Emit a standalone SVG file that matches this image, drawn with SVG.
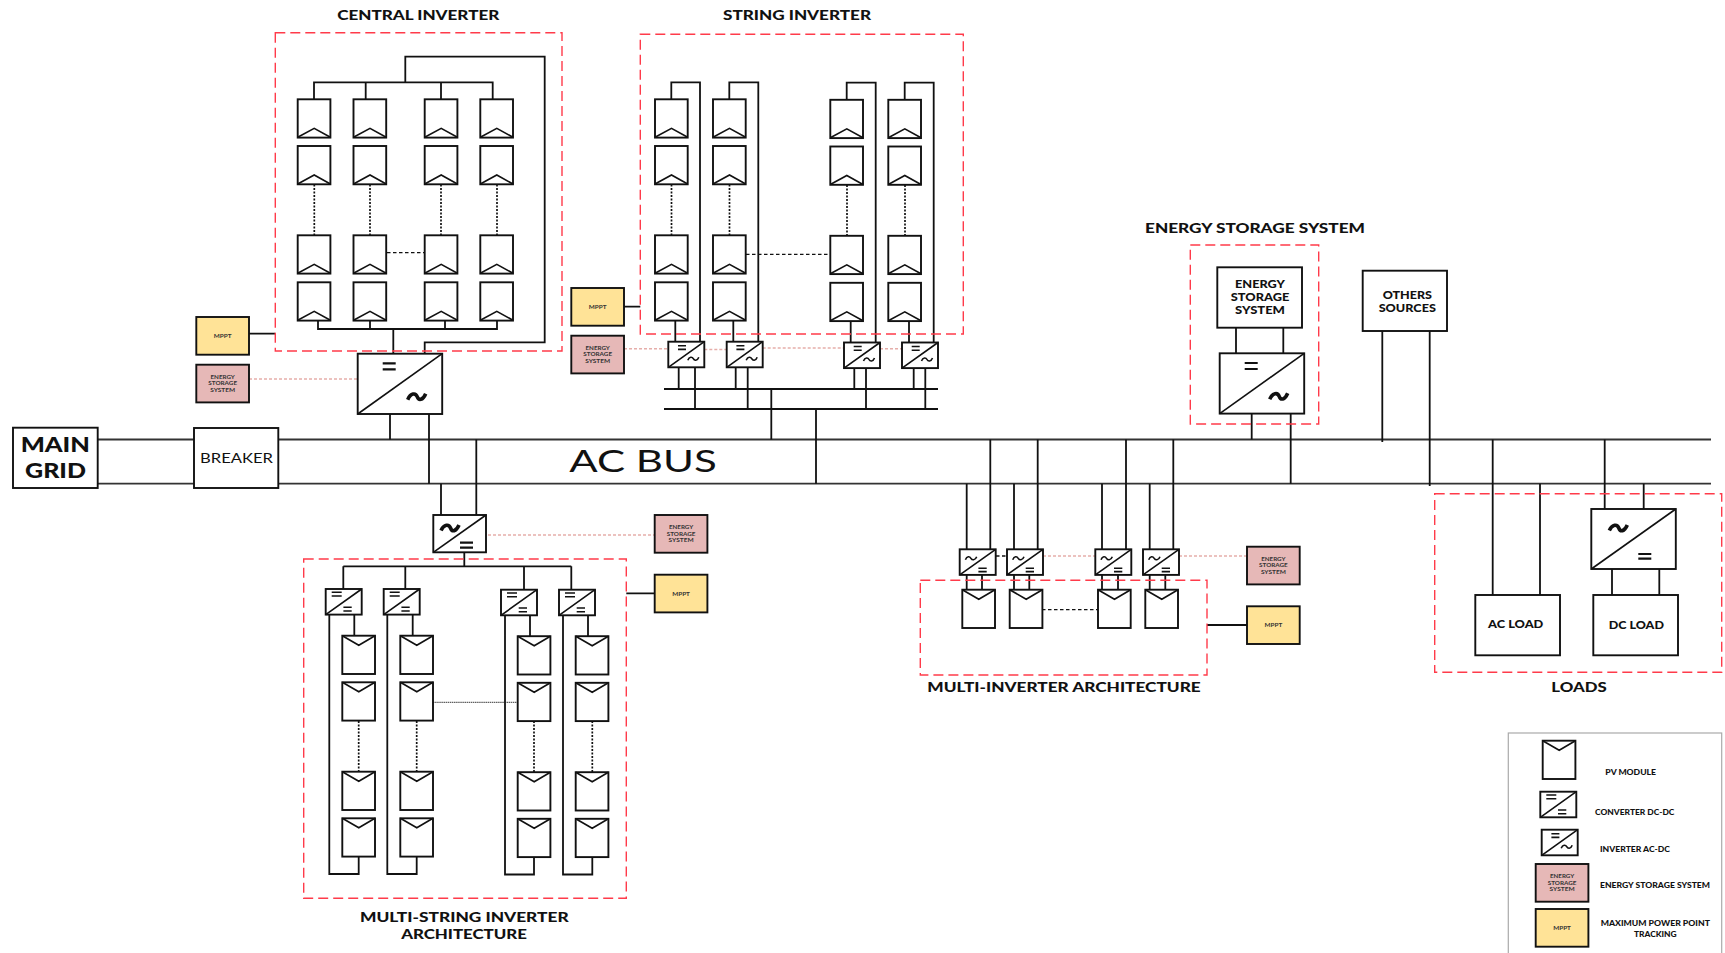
<svg xmlns="http://www.w3.org/2000/svg" xmlns:xlink="http://www.w3.org/1999/xlink" width="1725" height="953" viewBox="0 0 1725 953">
<style>
text{font-family:Lato,"Liberation Sans",sans-serif;fill:#111;text-anchor:middle}
.t{font-weight:900;font-size:14px}
.s{font-size:5.6px;fill:#333;font-weight:700}
.l{font-weight:900;font-size:7.2px}
.box{fill:#fff;stroke:#111;stroke-width:1.9}
.sym{fill:none;stroke:#111;stroke-width:1.6}
.sy2{fill:none;stroke:#111;stroke-width:2.2}
.sy3{fill:none;stroke:#111;stroke-width:3.6}
.wire{fill:none;stroke:#111;stroke-width:1.8}
.bus{fill:none;stroke:#333;stroke-width:1.8}
.dots{fill:none;stroke:#111;stroke-width:1.7;stroke-dasharray:2 1.5}
.dash{fill:none;stroke:#111;stroke-width:1.3;stroke-dasharray:3.5 2.5}
.thin{fill:none;stroke:#222;stroke-width:.9;stroke-dasharray:1.5 .6}
.pink{fill:none;stroke:#e6aeaa;stroke-width:1.4;stroke-dasharray:3 2}
.red{fill:none;stroke:#ff3b4a;stroke-width:1.4;stroke-dasharray:10 5}
.ess{fill:#e6b8b7;stroke:#111;stroke-width:1.9}
.mppt{fill:#ffe397;stroke:#111;stroke-width:1.9}
</style>
<defs>
<g id="pvU"><rect class="box" width="32.7" height="38.3"/><polyline class="sym" points="0,38 16.5,29 32.7,38"/></g>
<g id="pvD"><rect class="box" width="32.7" height="38.3"/><polyline class="sym" points="0,0 16.5,9.5 32.7,0"/></g>
<g id="dcac"><rect class="box" width="36" height="25.6"/><path class="sym" d="M0 25.6L36 0M9.7 4H17.7M9.7 7.7H17.7M19.5 18.5C21 14.5 24 15 25 17S29 19.5 30.5 15.5"/></g>
<g id="acdc"><rect class="box" width="36" height="25.6"/><path class="sym" d="M0 25.6L36 0M18.7 19H27M18.7 22.3H27M5.7 10.5C7.2 6.5 10 7 11.2 9S15.5 11.5 17 7.5"/></g>
<g id="dcdc"><rect class="box" width="36" height="25.6"/><path class="sym" d="M0 25.6L36 0M6 3.3H16M6 7H16M17.7 18.3H26M17.7 22H26"/></g>
<g id="bigDcac"><rect class="box" width="84.5" height="60.3"/><path class="sym" d="M0 60.3L84.5 0"/><path class="sy2" d="M25 9.7H38M25 15.7H38"/><path class="sy3" d="M50 46C53 39 58 39 59.500 43S65 47 68 40"/></g>
<g id="bigAcdc"><rect class="box" width="84.5" height="60"/><path class="sym" d="M0 60L84.500 0"/><path class="sy2" d="M47 45H60M47 49.700H60"/><path class="sy3" d="M18 21.500C21 15 26 15 27.500 19S33 23 36 16"/></g>
<rect id="essBox" class="ess" width="52.700" height="37.700"/>
<rect id="mpptBox" class="mppt" width="52.700" height="37.700"/>
</defs>
<rect width="1725" height="953" fill="#fff"/>

<g id="connectors">
<path class="bus" d="M98 439.500H194M278 439.500H1711M98 483.700H194M278 483.700H1711"/>
<!-- central -->
<path class="wire" d="M405.300 82.300V56.700H544.700V342.300H424.700V353.700M314 99.300V82.300H492.700V99.300M365.700 82.300V99.300M441 82.300V99.300M318 320.600V329H497V320.600M370 320.600V329M445 320.600V329M393.300 329V353.700M390 414V439.500M429 414V483.700M249 333.700H275.300"/>
<path class="dots" d="M314.300 184.500V235.300M370 184.500V235.300M441 184.500V235.300M497 184.500V235.300"/>
<path class="dash" d="M387 252.700H424"/>
<path class="pink" d="M249 379H357.700"/>
<!-- string -->
<path class="wire" d="M671.300 99.300V82.300H700V341.700M729.300 99.300V82.300H758.300V341.700M846.700 99.800V82.700H875.700V342.500M904.700 99.800V82.700H933.700V342.500M675.300 320.600V341.700M733.300 320.600V341.700M850.700 321V342.500M909 321V342.500M624 306.700H640.300"/>
<path class="wire" d="M664 389H938M664 409H938M678.700 367V389M695 367V409M735.700 367V389M747.700 367V409M854.300 368V389M866 368V409M913.700 368V389M925.300 368V409M771.300 389V439.500M816 409V483.700"/>
<path class="dots" d="M671.500 184.500V235.300M729.500 184.500V235.300M847 185V236M905 185V236"/>
<path class="dash" d="M746 254.300H830"/>
<path class="pink" d="M624 348.700H668.300M704.300 349.500H726.700M762.700 348H844M880 348.700H902"/>
<!-- multi-string -->
<path class="wire" d="M441 483.700V515M476.300 439.500V515M464.300 552V566.300M343.300 566.300H571.300M343.300 566.300V589M405.300 566.300V589M524 566.300V589.700M571.300 566.300V589.700M329.300 614.300V874H358.700V856.700M387.300 614.300V874H416.700V856.700M505 615V874.500H534V857M563 615V874.500H592.300V857M354.300 614.300V635.700M412.700 614.300V635.700M530 615V636M588 615V636M626.300 593.300H654.700"/>
<path class="dots" d="M358.700 721V771.700M416.700 721V771.700M534 721V772M592.300 721V772"/>
<path class="thin" d="M433 702.300H517.700"/>
<path class="pink" d="M488 535H654.700"/>
<!-- multi-inverter -->
<path class="wire" d="M966.700 483.700V549.300M990.300 439.500V549.300M1014 483.700V549.300M1037.700 439.500V549.300M1102 483.700V549.300M1126 439.500V549.300M1149.700 483.700V549.300M1173.300 439.500V549.300M966.700 575V589.700M982 575V589.700M1014 575V589.700M1029.300 575V589.700M1102 575V589.700M1118 575V589.700M1149.700 575V589.700M1165.300 575V589.700M1207 625H1247"/>
<path class="dash" d="M996 556H1007M1042 609.700H1098"/>
<path class="pink" d="M1043 556H1095.300M1179 556H1247"/>
<!-- storage, others, loads -->
<path class="wire" d="M1236 327.700V353.300M1283.300 327.700V353.300M1251.700 413.300V439.500M1290.700 413.300V483.700M1382.300 331V442M1429.700 331V486M1492.700 439.500V595M1540 483.700V595M1604.700 439.500V509M1643.700 483.700V509M1612 569V595M1659.300 569V595"/>
</g>

<g id="central-inverter">
<rect class="red" x="275.300" y="32.700" width="286.700" height="318.300"/>
<use href="#pvU" x="297.700" y="99.300"/><use href="#pvU" x="353.500" y="99.300"/><use href="#pvU" x="424.700" y="99.300"/><use href="#pvU" x="480.300" y="99.300"/>
<use href="#pvU" x="297.700" y="146"/><use href="#pvU" x="353.500" y="146"/><use href="#pvU" x="424.700" y="146"/><use href="#pvU" x="480.300" y="146"/>
<use href="#pvU" x="297.700" y="235.300"/><use href="#pvU" x="353.500" y="235.300"/><use href="#pvU" x="424.700" y="235.300"/><use href="#pvU" x="480.300" y="235.300"/>
<use href="#pvU" x="297.700" y="282.300"/><use href="#pvU" x="353.500" y="282.300"/><use href="#pvU" x="424.700" y="282.300"/><use href="#pvU" x="480.300" y="282.300"/>
<text class="t" x="418.300" y="20" textLength="162" lengthAdjust="spacingAndGlyphs">CENTRAL INVERTER</text>
</g>
<g id="central-converter"><use href="#bigDcac" x="357.700" y="353.700"/></g>
<g id="central-mppt" transform="translate(196.300,317)"><use href="#mpptBox"/><text class="s" x="26.400" y="21" textLength="17.700" lengthAdjust="spacingAndGlyphs">MPPT</text></g>
<g id="central-ess" transform="translate(196.300,364.700)"><use href="#essBox"/><text class="s" x="26.400" y="14.300" textLength="24.300" lengthAdjust="spacingAndGlyphs">ENERGY</text><text class="s" x="26.400" y="20.700" textLength="28.700" lengthAdjust="spacingAndGlyphs">STORAGE</text><text class="s" x="26.400" y="27.300" textLength="25" lengthAdjust="spacingAndGlyphs">SYSTEM</text></g>

<g id="string-inverter">
<rect class="red" x="640.300" y="34.300" width="323" height="299.700"/>
<use href="#pvU" x="655" y="99.300"/><use href="#pvU" x="713" y="99.300"/><use href="#pvU" x="830.300" y="99.800"/><use href="#pvU" x="888.300" y="99.800"/>
<use href="#pvU" x="655" y="146"/><use href="#pvU" x="713" y="146"/><use href="#pvU" x="830.300" y="146.500"/><use href="#pvU" x="888.300" y="146.500"/>
<use href="#pvU" x="655" y="235.300"/><use href="#pvU" x="713" y="235.300"/><use href="#pvU" x="830.300" y="235.800"/><use href="#pvU" x="888.300" y="235.800"/>
<use href="#pvU" x="655" y="282.300"/><use href="#pvU" x="713" y="282.300"/><use href="#pvU" x="830.300" y="282.800"/><use href="#pvU" x="888.300" y="282.800"/>
<text class="t" x="797" y="20" textLength="148" lengthAdjust="spacingAndGlyphs">STRING INVERTER</text>
</g>
<g id="string-converters"><use href="#dcac" x="668.300" y="341.700"/><use href="#dcac" x="726.700" y="341.700"/><use href="#dcac" x="844" y="342.500"/><use href="#dcac" x="902" y="342.500"/></g>
<g id="string-mppt" transform="translate(571.300,288)"><use href="#mpptBox"/><text class="s" x="26.400" y="21" textLength="17.700" lengthAdjust="spacingAndGlyphs">MPPT</text></g>
<g id="string-ess" transform="translate(571.300,335.700)"><use href="#essBox"/><text class="s" x="26.400" y="14.300" textLength="24.300" lengthAdjust="spacingAndGlyphs">ENERGY</text><text class="s" x="26.400" y="20.700" textLength="28.700" lengthAdjust="spacingAndGlyphs">STORAGE</text><text class="s" x="26.400" y="27.300" textLength="25" lengthAdjust="spacingAndGlyphs">SYSTEM</text></g>

<g id="main-grid"><rect class="box" x="13" y="427.700" width="84.700" height="60.300"/><text x="55.300" y="452" font-size="21" font-weight="900" textLength="69.300" lengthAdjust="spacingAndGlyphs">MAIN</text><text x="55.500" y="477.700" font-size="21" font-weight="900" textLength="61" lengthAdjust="spacingAndGlyphs">GRID</text></g>
<g id="breaker"><rect class="box" x="194" y="428" width="84.300" height="60"/><text x="236.500" y="463" font-size="14" textLength="73" lengthAdjust="spacingAndGlyphs">BREAKER</text></g>
<g id="ac-bus"><text x="643" y="471.700" font-size="31" textLength="147.400" lengthAdjust="spacingAndGlyphs">AC BUS</text></g>

<g id="multi-string">
<rect class="red" x="303.700" y="559" width="322.600" height="339.300"/>
<use href="#pvD" x="342.300" y="635.700"/><use href="#pvD" x="400.300" y="635.700"/><use href="#pvD" x="517.700" y="636.200"/><use href="#pvD" x="575.700" y="636.200"/>
<use href="#pvD" x="342.300" y="682.300"/><use href="#pvD" x="400.300" y="682.300"/><use href="#pvD" x="517.700" y="682.800"/><use href="#pvD" x="575.700" y="682.800"/>
<use href="#pvD" x="342.300" y="771.700"/><use href="#pvD" x="400.300" y="771.700"/><use href="#pvD" x="517.700" y="772.200"/><use href="#pvD" x="575.700" y="772.200"/>
<use href="#pvD" x="342.300" y="818.300"/><use href="#pvD" x="400.300" y="818.300"/><use href="#pvD" x="517.700" y="818.800"/><use href="#pvD" x="575.700" y="818.800"/>
<use href="#dcdc" x="325.700" y="589"/><use href="#dcdc" x="383.700" y="589"/><use href="#dcdc" x="501" y="589.700"/><use href="#dcdc" x="559" y="589.700"/>
<text class="t" x="464.300" y="922" textLength="208.700" lengthAdjust="spacingAndGlyphs">MULTI-STRING INVERTER</text>
<text class="t" x="464" y="939" textLength="125.700" lengthAdjust="spacingAndGlyphs">ARCHITECTURE</text>
</g>
<g id="multi-string-converter"><rect class="box" x="433.300" y="515" width="52.700" height="37.300"/><path class="sym" d="M433.300 552.300L486 515"/><path class="sy2" d="M460 542.700H473M460 547.700H473"/><path class="sy3" d="M441 530.500C444 524 449 524 450.500 528S456 532 459 525"/></g>
<g id="multi-string-ess" transform="translate(654.700,515)"><use href="#essBox"/><text class="s" x="26.400" y="14.300" textLength="24.300" lengthAdjust="spacingAndGlyphs">ENERGY</text><text class="s" x="26.400" y="20.700" textLength="28.700" lengthAdjust="spacingAndGlyphs">STORAGE</text><text class="s" x="26.400" y="27.300" textLength="25" lengthAdjust="spacingAndGlyphs">SYSTEM</text></g>
<g id="multi-string-mppt" transform="translate(654.700,574.700)"><use href="#mpptBox"/><text class="s" x="26.400" y="21" textLength="17.700" lengthAdjust="spacingAndGlyphs">MPPT</text></g>

<g id="multi-inverter">
<rect class="red" x="920.300" y="580.300" width="286.700" height="94.700"/>
<use href="#pvD" x="962.300" y="589.700"/><use href="#pvD" x="1009.700" y="589.700"/><use href="#pvD" x="1098" y="589.700"/><use href="#pvD" x="1145.300" y="589.700"/>
<use href="#acdc" x="959.700" y="549.300"/><use href="#acdc" x="1007" y="549.300"/><use href="#acdc" x="1095.300" y="549.300"/><use href="#acdc" x="1143" y="549.300"/>
<text class="t" x="1064" y="691.700" textLength="273.400" lengthAdjust="spacingAndGlyphs">MULTI-INVERTER ARCHITECTURE</text>
</g>
<g id="multi-inverter-ess" transform="translate(1247,546.700)"><use href="#essBox"/><text class="s" x="26.400" y="14.300" textLength="24.300" lengthAdjust="spacingAndGlyphs">ENERGY</text><text class="s" x="26.400" y="20.700" textLength="28.700" lengthAdjust="spacingAndGlyphs">STORAGE</text><text class="s" x="26.400" y="27.300" textLength="25" lengthAdjust="spacingAndGlyphs">SYSTEM</text></g>
<g id="multi-inverter-mppt" transform="translate(1247,606.300)"><use href="#mpptBox"/><text class="s" x="26.400" y="21" textLength="17.700" lengthAdjust="spacingAndGlyphs">MPPT</text></g>

<g id="energy-storage">
<rect class="red" x="1190.300" y="245" width="128.400" height="179"/>
<text class="t" x="1255" y="233" textLength="220" lengthAdjust="spacingAndGlyphs">ENERGY STORAGE SYSTEM</text>
<rect class="box" x="1217.300" y="267.300" width="84.700" height="60.400"/>
<text class="t" x="1260" y="288" textLength="50" lengthAdjust="spacingAndGlyphs" style="font-size:12px">ENERGY</text>
<text class="t" x="1260" y="301" textLength="58.500" lengthAdjust="spacingAndGlyphs" style="font-size:12px">STORAGE</text>
<text class="t" x="1260" y="314" textLength="50" lengthAdjust="spacingAndGlyphs" style="font-size:12px">SYSTEM</text>
<use href="#bigDcac" x="1219.700" y="353.300"/>
</g>
<g id="others-sources"><rect class="box" x="1362.700" y="270.700" width="84.300" height="60.300"/><text class="t" x="1407.300" y="299" textLength="49.300" lengthAdjust="spacingAndGlyphs" style="font-size:12px">OTHERS</text><text class="t" x="1407.300" y="312" textLength="57.300" lengthAdjust="spacingAndGlyphs" style="font-size:12px">SOURCES</text></g>

<g id="loads">
<rect class="red" x="1434.700" y="493.700" width="287" height="178.600"/>
<text class="t" x="1579" y="692" textLength="55.400" lengthAdjust="spacingAndGlyphs">LOADS</text>
<use href="#bigAcdc" x="1591.300" y="509"/>
</g>
<g id="ac-load"><rect class="box" x="1475.300" y="595" width="84.700" height="60.300"/><text class="t" x="1515.700" y="628.300" textLength="55.300" lengthAdjust="spacingAndGlyphs" style="font-size:12px">AC LOAD</text></g>
<g id="dc-load"><rect class="box" x="1593.300" y="595" width="84.700" height="60.300"/><text class="t" x="1636.300" y="629" textLength="55.300" lengthAdjust="spacingAndGlyphs" style="font-size:12px">DC LOAD</text></g>

<g id="legend">
<rect x="1508.300" y="733" width="213.400" height="240" fill="none" stroke="#aaa" stroke-width="1.2"/>
<use href="#pvD" x="1542.700" y="740.700"/>
<use href="#dcdc" x="1540.300" y="791.700"/>
<use href="#dcac" x="1541.700" y="829.700"/>
<g transform="translate(1535.700,864)"><use href="#essBox"/><text class="s" x="26.400" y="14.300" textLength="24.300" lengthAdjust="spacingAndGlyphs">ENERGY</text><text class="s" x="26.400" y="20.700" textLength="28.700" lengthAdjust="spacingAndGlyphs">STORAGE</text><text class="s" x="26.400" y="27.300" textLength="25" lengthAdjust="spacingAndGlyphs">SYSTEM</text></g>
<g transform="translate(1535.700,909)"><use href="#mpptBox"/><text class="s" x="26.400" y="21" textLength="17.700" lengthAdjust="spacingAndGlyphs">MPPT</text></g>
<text class="l" x="1630.700" y="775.300" textLength="50.700" lengthAdjust="spacingAndGlyphs">PV MODULE</text>
<text class="l" x="1634.700" y="815" textLength="79.300" lengthAdjust="spacingAndGlyphs">CONVERTER DC-DC</text>
<text class="l" x="1635" y="852" textLength="70" lengthAdjust="spacingAndGlyphs">INVERTER AC-DC</text>
<text class="l" x="1655" y="888" textLength="110" lengthAdjust="spacingAndGlyphs">ENERGY STORAGE SYSTEM</text>
<text class="l" x="1655.300" y="926" textLength="109.300" lengthAdjust="spacingAndGlyphs">MAXIMUM POWER POINT</text>
<text class="l" x="1655.300" y="937" textLength="42.700" lengthAdjust="spacingAndGlyphs">TRACKING</text>
</g>
</svg>
